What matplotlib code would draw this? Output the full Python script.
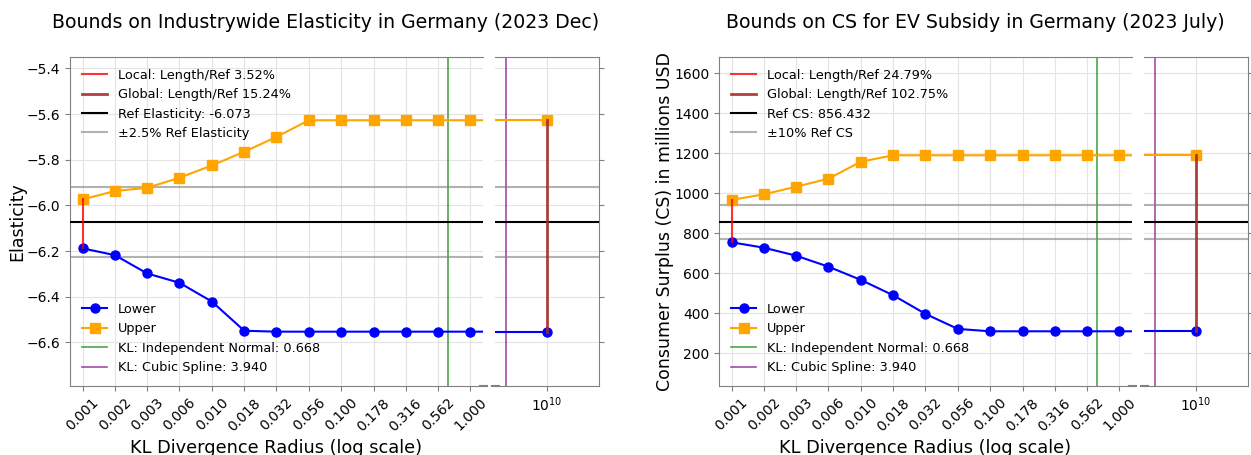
import matplotlib.pyplot as plt
from matplotlib.ticker import NullLocator, FixedLocator

# KL radii (log spaced) and the far-away "global" radius
radii = [0.001, 0.00178, 0.00316, 0.00562, 0.01, 0.0178, 0.0316, 0.0562,
         0.1, 0.178, 0.316, 0.562, 1.0]
radius_labels = ['0.001', '0.002', '0.003', '0.006', '0.010', '0.018', '0.032',
                 '0.056', '0.100', '0.178', '0.316', '0.562', '1.000']
far_radius = 1e10
kl_normal = 0.668
kl_spline = 3.940

# elasticity bounds (last value is at the far radius)
elas_lower = [-6.188, -6.218, -6.298, -6.339, -6.421, -6.549, -6.553, -6.553,
              -6.553, -6.553, -6.553, -6.553, -6.553, -6.553]
elas_upper = [-5.974, -5.937, -5.923, -5.879, -5.825, -5.765, -5.700, -5.627,
              -5.627, -5.627, -5.627, -5.627, -5.627, -5.627]
elas_ref = -6.073
elas_band = 0.025

# consumer surplus bounds, millions USD
cs_lower = [755, 728, 688, 633, 567, 490, 397, 322, 310, 310, 310, 310, 310, 310]
cs_upper = [967, 995, 1033, 1073, 1158, 1190, 1190, 1190, 1190, 1190, 1190, 1190,
            1190, 1190]
cs_ref = 856.432
cs_band = 0.10

panels = [
    dict(lower=elas_lower, upper=elas_upper, ref=elas_ref, band=elas_band,
         title='Bounds on Industrywide Elasticity in Germany (2023 Dec)',
         ylabel='Elasticity',
         local_lab='Local: Length/Ref 3.52%', global_lab='Global: Length/Ref 15.24%',
         ref_lab='Ref Elasticity: -6.073', band_lab='±2.5% Ref Elasticity',
         yticks=[-6.6, -6.4, -6.2, -6.0, -5.8, -5.6, -5.4], ylim=(-6.791, -5.350),
         left=70, title_x=326),
    dict(lower=cs_lower, upper=cs_upper, ref=cs_ref, band=cs_band,
         title='Bounds on CS for EV Subsidy in Germany (2023 July)',
         ylabel='Consumer Surplus (CS) in millions USD',
         local_lab='Local: Length/Ref 24.79%', global_lab='Global: Length/Ref 102.75%',
         ref_lab='Ref CS: 856.432', band_lab='±10% Ref CS',
         yticks=[200, 400, 600, 800, 1000, 1200, 1400, 1600], ylim=(36.5, 1681.5),
         left=719, title_x=975),
]

W, H = 1251, 455
fig = plt.figure(figsize=(W / 100, H / 100), dpi=100)

xs = radii + [far_radius]
bottom = (H - 386) / H
height = 329 / H
far_xlim = (1e-2, 1e22)

for p in panels:
    ax = fig.add_axes([p['left'] / W, bottom, 413 / W, height])
    axb = fig.add_axes([(p['left'] + 425) / W, bottom, 103.5 / W, height])

    lo_band = p['ref'] * (1 - p['band'])
    hi_band = p['ref'] * (1 + p['band'])

    # main (local) axis
    ax.set_xscale('log')
    h_lo, = ax.plot(xs, p['lower'], color='blue', marker='o', ms=6.5, lw=1.5, zorder=4)
    h_up, = ax.plot(xs, p['upper'], color='orange', marker='s', ms=6.5, lw=1.5, zorder=4)
    ax.set_xlim(0.0008, 1.25)

    # broken (global) axis: only the far radius is shown
    axb.set_xscale('log')
    axb.set_xlim(*far_xlim)
    axb.plot([far_xlim[0], far_radius], p['lower'][-2:], color='blue', marker='o',
             ms=6.5, lw=1.5, markevery=[1], zorder=4)
    axb.plot([far_xlim[0], far_radius], p['upper'][-2:], color='orange', marker='s',
             ms=6.5, lw=1.5, markevery=[1], zorder=4)

    for a in (ax, axb):
        a.axhline(p['ref'], color='black', lw=1.5, zorder=3)
        a.axhline(lo_band, color='gray', alpha=0.6, lw=1.5, zorder=3)
        a.axhline(hi_band, color='gray', alpha=0.6, lw=1.5, zorder=3)
        a.set_ylim(*p['ylim'])
        a.set_yticks(p['yticks'])
        a.grid(True, color='#e4e4e4', lw=0.8)
        a.set_axisbelow(True)
        a.xaxis.set_minor_locator(NullLocator())
        for s in a.spines.values():
            s.set_color('gray')
        a.tick_params(labelsize=10, color='gray')

    ax.xaxis.set_major_locator(FixedLocator(radii))
    ax.set_xticklabels(radius_labels, rotation=45, fontsize=10)
    ax.spines['right'].set_visible(False)
    h_local, = ax.plot([radii[0], radii[0]], [p['lower'][0], p['upper'][0]],
                       color='red', lw=1.5, alpha=0.8, zorder=5)
    h_green = ax.axvline(kl_normal, color='green', alpha=0.7, lw=1.2)
    ax.set_ylabel(p['ylabel'], fontsize=12.5, labelpad=0)
    ax.set_xlabel('KL Divergence Radius (log scale)', fontsize=12.8)

    axb.set_xticks([far_radius])
    axb.spines['left'].set_visible(False)
    axb.yaxis.tick_right()
    axb.tick_params(axis='y', labelright=False)
    h_global, = axb.plot([far_radius, far_radius], [min(p['lower']), max(p['upper'])],
                         color='brown', lw=2, alpha=0.9, zorder=5)
    h_purple = axb.axvline(kl_spline, color='purple', alpha=0.7, lw=1.2)

    # break marks
    for a, xc in ((ax, 1.0), (axb, 0.0)):
        w = 3.5 / (a.get_position().width * W)
        a.plot([xc - w, xc + w], [0, 0], transform=a.transAxes, color='gray',
               lw=1.5, clip_on=False)

    h_ref = plt.Line2D([], [], color='black', lw=1.5)
    h_band = plt.Line2D([], [], color='gray', alpha=0.6, lw=1.5)
    leg1 = ax.legend([h_local, h_global, h_ref, h_band],
                     [p['local_lab'], p['global_lab'], p['ref_lab'], p['band_lab']],
                     loc='upper left', frameon=False, fontsize=9.3)
    ax.add_artist(leg1)
    ax.legend([h_lo, h_up, h_green, h_purple],
              ['Lower', 'Upper', 'KL: Independent Normal: 0.668', 'KL: Cubic Spline: 3.940'],
              loc='lower left', frameon=False, fontsize=9.3)

    fig.text(p['title_x'] / W, 1 - 22 / H, p['title'], ha='center', va='center',
             fontsize=13.6)

fig.savefig('out.png', dpi=100)
